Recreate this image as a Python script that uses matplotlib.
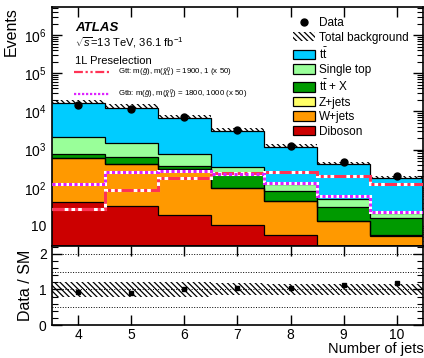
import numpy as np
import matplotlib.pyplot as plt
from matplotlib.patches import Patch
from matplotlib.lines import Line2D
from matplotlib.ticker import MultipleLocator, LogLocator, NullFormatter, FixedLocator

plt.rcParams['font.family'] = ['Liberation Sans', 'DejaVu Sans']
plt.rcParams['mathtext.fontset'] = 'custom'
plt.rcParams['mathtext.rm'] = 'Liberation Sans'
plt.rcParams['mathtext.it'] = 'Liberation Sans:italic'
plt.rcParams['hatch.linewidth'] = 0.9

# jet multiplicity bins
njets = [4, 5, 6, 7, 8, 9, 10]

# background components (events per bin)
diboson = [42, 33, 19.5, 10.7, 5.7, 2.5, 1.0]
wjets = [570, 380, 289, 90, 38, 11, 4.5]
zjets = [3, 2.5, 1.5, 0.8, 0.4, 0.2, 0.1]
ttx = [175, 235, 70, 148, 39, 18.5, 10.2]
singletop = [1310, 850, 410, 107, 40, 19, 5.7]
ttbar = [14200, 11100, 6110, 2743, 1077, 364, 156]

# relative uncertainty on total background
bkg_unc = [0.22, 0.22, 0.20, 0.17, 0.15, 0.15, 0.15]

# observed data
data = [14900, 11500, 7000, 3200, 1260, 470, 210]

# signal points (x 50)
gtt = [28, 87, 178, 240, 258, 205, 129]
gtb = [123, 260, 275, 225, 131, 62, 23]

edges = np.arange(3.5, 11.5, 1.0)
x = np.array(njets)
HATCH = '\\\\\\\\\\\\'

# stacking order, bottom to top
components = [
    ('Diboson', diboson, '#cc0000'),
    ('W+jets', wjets, '#ff9900'),
    ('Z+jets', zjets, '#ffff66'),
    (r'$\mathrm{t\bar{t}}$ + X', ttx, '#009a00'),
    ('Single top', singletop, '#99ff99'),
    (r'$\mathrm{t\bar{t}}$', ttbar, '#00ccff'),
]

fig = plt.figure(figsize=(4.24, 3.58), dpi=100)
ax = fig.add_axes([0.1215, 0.313, 0.877, 0.667])
ax2 = fig.add_axes([0.1215, 0.092, 0.877, 0.221], sharex=ax)

total = np.sum([np.array(c[1]) for c in components], axis=0)
unc = np.array(bkg_unc)

# uncertainty band (only upper part shows above stack)
ax.stairs(total * (1 + unc), edges, baseline=total * (1 - unc), fill=True,
          facecolor='none', edgecolor='black', hatch=HATCH, lw=0, zorder=1)

# stacked backgrounds
bottom = np.full(len(njets), 0.1)
for name, vals, col in components:
    top = bottom + np.array(vals)
    ax.stairs(top, edges, baseline=bottom, fill=True, facecolor=col,
              edgecolor='none', zorder=2)
    ax.stairs(top, edges, color='black', lw=0.9, baseline=None, zorder=3)
    bottom = top

# signals: white underlay with coloured dashes
ax.stairs(gtt, edges, baseline=None, color='white', lw=2.2, zorder=4)
ax.stairs(gtt, edges, baseline=None, color='#ff3355', lw=2.2,
          linestyle=(0, (4, 1.2, 1, 1.2, 1, 1.2)), zorder=5)
ax.stairs(gtb, edges, baseline=None, color='white', lw=2.2, zorder=4)
ax.stairs(gtb, edges, baseline=None, color='#dd22ff', lw=2.2,
          linestyle=(0, (1, 0.8)), zorder=5)

ax.plot(x, data, 'o', color='black', ms=5, zorder=6)

ax.set_yscale('log')
ax.set_ylim(3, 5.4e6)
ax.set_xlim(3.5, 10.5)
ax.yaxis.set_major_locator(FixedLocator([10, 1e2, 1e3, 1e4, 1e5, 1e6]))
ax.yaxis.set_minor_locator(LogLocator(base=10, subs=np.arange(2, 10), numticks=20))
ax.yaxis.set_minor_formatter(NullFormatter())
ax.set_yticklabels(['10', r'$10^{2}$', r'$10^{3}$', r'$10^{4}$', r'$10^{5}$', r'$10^{6}$'])
ax.tick_params(which='both', direction='in', top=True, right=True, labelsize=10)
ax.tick_params(which='major', length=7, width=1)
ax.tick_params(which='minor', length=4, width=0.8)
ax.tick_params(axis='x', labelbottom=False)
ax.xaxis.set_major_locator(MultipleLocator(1))
ax.set_ylabel('Events', fontsize=11.5, loc='top')
for s in ax.spines.values():
    s.set_linewidth(1.2)

# labels
fig.text(75 / 424, 1 - 28 / 358, 'ATLAS', fontsize=9.5, fontweight='bold',
         fontstyle='italic', va='center')
fig.text(75 / 424, 1 - 43 / 358, r'$\sqrt{s}$=13 TeV, 36.1 fb$^{-1}$',
         fontsize=8, va='center')
fig.text(75 / 424, 1 - 61 / 358, '1L Preselection', fontsize=8, va='center')

# signal legend
sig_handles = [
    Line2D([], [], color='#ff3355', lw=1.6, linestyle=(0, (4, 1.2, 1, 1.2, 1, 1.2))),
    Line2D([], [], color='#dd22ff', lw=1.6, linestyle=(0, (1, 0.8))),
]
sig_labels = [
    r'Gtt: m($\tilde{g}$), m($\tilde{\chi}^{0}_{1}$) = 1900, 1 (x 50)',
    r'Gtb: m($\tilde{g}$), m($\tilde{\chi}^{0}_{1}$) = 1800, 1000 (x 50)',
]
leg2 = ax.legend(sig_handles, sig_labels, loc='upper left',
                 bbox_to_anchor=(74 / 424, 1 - 66 / 358), bbox_transform=fig.transFigure,
                 frameon=False, fontsize=5.7, handlelength=4.4, handletextpad=1.2,
                 labelspacing=1.1, borderpad=0, borderaxespad=0)
ax.add_artist(leg2)

# main legend
handles = [Line2D([], [], marker='o', color='black', ls='none', ms=5),
           Patch(facecolor='white', edgecolor='black', hatch=HATCH, lw=0)]
labels = ['Data', 'Total background']
for name, vals, col in reversed(components):
    handles.append(Patch(facecolor=col, edgecolor='black', lw=0.9))
    labels.append(name)
ax.legend(handles, labels, loc='upper left',
          bbox_to_anchor=(293 / 424, 1 - 17 / 358), bbox_transform=fig.transFigure,
          frameon=False, fontsize=8.5, handlelength=1.9, handleheight=0.85,
          handletextpad=0.3, labelspacing=0.22, borderpad=0, borderaxespad=0)

# ratio panel
ratio = np.array(data) / total
ax2.stairs(1 + unc, edges, baseline=1 - unc, fill=True, facecolor='none',
           edgecolor='black', hatch=HATCH, lw=0)
for yl in [0.5, 1.0, 1.5, 2.0]:
    ax2.axhline(yl, color='black', ls=':', lw=0.7)
ax2.plot(x, ratio, 's', color='black', ms=3.5, zorder=5)
ax2.set_ylim(0, 2.22)
ax2.yaxis.set_major_locator(FixedLocator([0, 1, 2]))
ax2.yaxis.set_minor_locator(MultipleLocator(0.2))
ax2.tick_params(which='both', direction='in', top=True, right=True, labelsize=10)
ax2.tick_params(which='major', length=7, width=1)
ax2.tick_params(which='minor', length=4, width=0.8)
ax2.tick_params(axis='x', pad=2)
ax2.set_ylabel('Data / SM', fontsize=11.5)
ax2.set_xlabel('Number of jets', fontsize=10.5, loc='right', labelpad=0)
for s in ax2.spines.values():
    s.set_linewidth(1.2)

fig.align_ylabels([ax, ax2])
fig.savefig('out.png', dpi=100)
